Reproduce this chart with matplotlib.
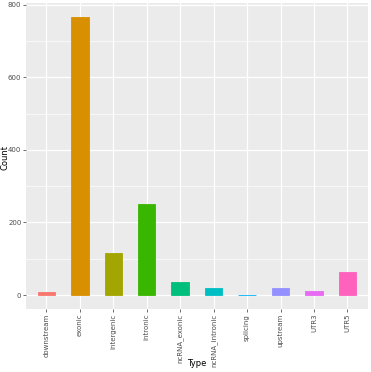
import numpy as np
import matplotlib
matplotlib.use("Agg")
from matplotlib import pyplot as plt

# --- Datos ---
types = ["downstream", "exonic", "intergenic", "intronic", "ncRNA_exonic",
         "ncRNA_intronic", "splicing", "upstream", "UTR3", "UTR5"]
counts = [9, 766, 117, 252, 37, 19, 1, 19, 10, 63]
colors = ["#F8766D", "#D89000", "#A3A500", "#39B600", "#00BF7D",
          "#00BFC4", "#00B0F6", "#9590FF", "#E76BF3", "#FF62BC"]
yticks = [0, 200, 400, 600, 800]

# --- Figura ---
fig = plt.figure(figsize=(3.71, 3.72), dpi=100)
W, H = 371, 372
left, right, top, bottom = 26.3, 367.5, 3, 309
ax = fig.add_axes([left / W, 1 - bottom / H, (right - left) / W, (bottom - top) / H])
ax.set_facecolor("#EBEBEB")
for s in ax.spines.values():
    s.set_visible(False)

x = np.arange(len(types))
ax.bar(x, counts, width=0.52, color=colors, zorder=3,
       edgecolor=colors, linewidth=0.6)

# limites estilo ggplot
ymax = max(counts)
ax.set_ylim(-0.05 * ymax, 1.05 * ymax)
ax.set_xlim(-0.6, len(types) - 0.4)

# Rejilla
ax.set_yticks(yticks)
ax.set_yticks([100, 300, 500, 700], minor=True)
ax.set_xticks(x)
ax.grid(True, which="major", color="white", linewidth=0.9, zorder=0)
ax.grid(True, which="minor", axis="y", color="white", linewidth=0.45, zorder=0)

ax.set_xticklabels(types, rotation=90, fontsize=5, color="#4D4D4D")
ax.set_yticklabels([str(v) for v in yticks], fontsize=5, color="#4D4D4D")
ax.tick_params(axis="both", which="major", length=2, width=0.5, color="#333333", pad=1.5)
ax.tick_params(axis="y", which="minor", length=0)

# Titulos de ejes
fig.text((left + right) / 2 / W, 1 - 364 / H, "Type", fontsize=6, ha="center", va="center")
fig.text(5 / W, 1 - 157 / H, "Count", fontsize=6, ha="center", va="center", rotation=90)

plt.savefig("out.png", dpi=100)
